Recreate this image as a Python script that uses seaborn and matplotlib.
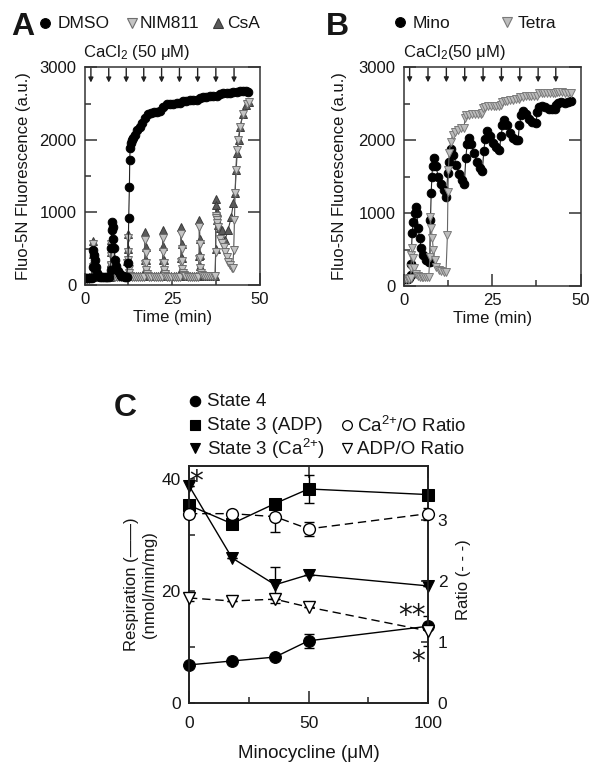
"""
Fluo-5N Ca2+ retention traces (A, B) and respiration / ratio vs minocycline (C)
"""
import matplotlib
matplotlib.use('Agg')
import matplotlib.pyplot as plt
import seaborn as sns

# ---------------- panel A : time (min) / fluorescence (a.u.) ----------------
dmso_t = [0, 0.5, 1, 1.5, 2, 2.3, 2.5, 2.7, 2.9, 3.2, 3.5, 4, 4.5, 5, 5.5, 6, 6.5, 7,
          7.4, 7.6, 7.7, 7.8, 8.0, 8.2, 8.4, 8.7, 9.0, 9.5, 10, 10.5, 11, 11.5, 12,
          12.4, 12.6, 12.8, 12.9, 13.0, 13.2, 13.5, 13.9, 14.4, 15.0, 15.8, 16.5, 17.3,
          18.2, 19.0, 19.8, 20.6, 21.5, 22.5, 23.5, 24.4, 25.3, 26.3, 27.2, 28.2, 29.1,
          30.0, 31.0, 32.0, 33.0, 33.8, 34.8, 35.8, 36.8, 37.8, 38.7, 39.6, 40.6, 41.5,
          42.5, 43.4, 44.4, 45.3, 46.2, 46.8]
dmso_v = [90, 90, 95, 95, 100, 250, 480, 410, 345, 250, 170, 130, 115, 110, 105, 105, 105, 105,
          200, 510, 755, 870, 800, 640, 510, 345, 260, 190, 150, 130, 120, 115, 115,
          300, 920, 1350, 1720, 1885, 1950, 2000, 2030, 2070, 2140, 2180, 2230, 2300,
          2360, 2370, 2380, 2390, 2400, 2455, 2490, 2495, 2500, 2505, 2510, 2530, 2540,
          2545, 2550, 2555, 2575, 2590, 2595, 2600, 2605, 2610, 2630, 2640, 2645, 2650,
          2655, 2665, 2670, 2670, 2670, 2665]

csa_t = [0, 0.6, 1.2, 1.8, 2.2,
         2.35, 2.4, 2.5, 2.6, 2.7, 2.85, 3.1, 3.6, 4.2, 4.8, 5.4, 6.0, 6.6, 7.2,
         7.4, 7.45, 7.55, 7.65, 7.75, 7.9, 8.2, 8.7, 9.3, 9.9, 10.5, 11.1, 11.7, 12.1,
         12.25, 12.3, 12.4, 12.5, 12.6, 12.75, 13.0, 13.5, 14.1, 14.7, 15.3, 15.9, 16.5, 17.1,
         17.25, 17.3, 17.4, 17.5, 17.6, 17.75, 18.0, 18.5, 19.1, 19.7, 20.3, 20.9, 21.5, 22.1,
         22.35, 22.4, 22.5, 22.6, 22.7, 22.85, 23.1, 23.6, 24.2, 24.8, 25.4, 26.0, 26.6, 27.2,
         27.55, 27.6, 27.7, 27.8, 27.9, 28.05, 28.3, 28.8, 29.4, 30.0, 30.6, 31.2, 31.8, 32.4,
         32.75, 32.8, 32.9, 33.0, 33.1, 33.25, 33.5, 34.0, 34.6, 35.2, 35.8, 36.4, 37.0, 37.3,
         37.45, 37.5, 37.6, 37.7, 37.9, 38.2, 38.6, 39.2, 40.1, 41.0, 41.9, 42.5, 43.0, 43.3,
         43.6, 44.0, 44.5, 45.2, 46.0, 46.9]
csa_v = [100, 100, 105, 105, 110,
         300, 600, 430, 290, 200, 150, 130, 120, 115, 115, 115, 115, 115, 115,
         300, 620, 450, 300, 210, 160, 135, 125, 120, 120, 120, 120, 120, 120,
         330, 700, 500, 330, 220, 165, 140, 125, 120, 120, 120, 120, 120, 120,
         340, 730, 520, 340, 230, 170, 140, 125, 120, 120, 120, 120, 120, 120,
         350, 760, 540, 350, 230, 170, 140, 125, 120, 120, 120, 120, 120, 120,
         370, 800, 570, 370, 240, 175, 145, 130, 125, 125, 125, 125, 125, 125,
         400, 900, 640, 420, 260, 180, 150, 135, 130, 130, 130, 130, 130, 130,
         500, 1190, 1100, 1000, 900, 820, 780, 760, 620, 760, 940, 1125, 1270, 1580,
         1820, 2000, 2180, 2360, 2480, 2520]

nim811_t = [0, 0.6, 1.2, 1.8, 2.2,
            2.35, 2.4, 2.5, 2.6, 2.7, 2.85, 3.1, 3.6, 4.2, 4.8, 5.4, 6.0, 6.6, 7.2,
            7.4, 7.45, 7.55, 7.65, 7.75, 7.9, 8.2, 8.7, 9.3, 9.9, 10.5, 11.1, 11.7, 12.1,
            12.25, 12.3, 12.4, 12.5, 12.6, 12.75, 13.0, 13.5, 14.1, 14.7, 15.3, 15.9, 16.5, 17.1,
            17.25, 17.3, 17.4, 17.5, 17.6, 17.75, 18.0, 18.5, 19.1, 19.7, 20.3, 20.9, 21.5, 22.1,
            22.35, 22.4, 22.5, 22.6, 22.7, 22.85, 23.1, 23.6, 24.2, 24.8, 25.4, 26.0, 26.6, 27.2,
            27.55, 27.6, 27.7, 27.8, 27.9, 28.05, 28.3, 28.8, 29.4, 30.0, 30.6, 31.2, 31.8, 32.4,
            32.75, 32.8, 32.9, 33.0, 33.1, 33.25, 33.5, 34.0, 34.6, 35.2, 35.8, 36.4, 37.0, 37.3,
            37.45, 37.5, 37.6, 37.7, 37.9, 38.2, 38.7, 39.2, 39.7, 40.2, 40.6, 41.1, 41.5,
            42.0, 42.3, 42.6, 42.8, 43.0, 43.2, 43.5, 43.9, 44.4, 45.3, 46.3, 46.9]
nim811_v = [80, 85, 85, 90, 95,
            250, 560, 400, 260, 180, 140, 120, 110, 105, 105, 105, 105, 105, 105,
            260, 560, 400, 270, 190, 145, 125, 115, 110, 110, 110, 110, 110, 110,
            300, 650, 460, 340, 220, 160, 130, 115, 110, 110, 110, 110, 110, 110,
            290, 620, 440, 300, 200, 150, 125, 115, 110, 110, 110, 110, 110, 110,
            300, 650, 460, 300, 210, 155, 130, 115, 110, 110, 110, 110, 110, 110,
            320, 700, 500, 330, 220, 160, 135, 120, 115, 115, 115, 115, 115, 115,
            360, 800, 560, 370, 240, 170, 140, 125, 120, 120, 120, 120, 120, 120,
            450, 950, 930, 900, 860, 800, 640, 580, 525, 450, 390, 320, 275,
            240, 230, 480, 895, 1265, 1580, 1855, 2000, 2180, 2360, 2500, 2520]

ca_pulses_a = [1.8, 6.9, 11.9, 16.9, 22.0, 27.1, 32.3, 37.5, 42.7]

# ---------------- panel B ----------------
mino_t = [0, 0.5, 1.0, 1.5, 1.9,
          2.0, 2.3, 2.6, 3.0, 3.3, 3.6, 4.0, 4.4, 4.9, 5.5, 6.2, 7.0, 7.3,
          7.5, 7.7, 7.9, 8.1, 8.4, 9.0, 9.7, 10.4, 11.2, 12.0,
          12.4, 12.8, 13.3, 14.0, 14.8, 15.6, 16.4, 17.1,
          17.5, 17.9, 18.3, 19.0, 19.8, 20.6, 21.4, 22.2,
          22.6, 23.0, 23.5, 24.3, 25.2, 26.1, 27.0,
          27.5, 27.9, 28.4, 29.2, 30.0, 30.8, 31.6, 32.3,
          32.7, 33.2, 33.8, 34.6, 35.5, 36.4, 37.3,
          37.8, 38.3, 39.0, 40.0, 41.0, 42.0, 42.7,
          43.1, 43.6, 44.5, 45.5, 46.5, 47.2]
mino_v = [100, 100, 100, 105, 150,
          300, 720, 880, 1000, 1085, 1000, 800, 660, 520, 430, 360, 330, 330,
          900, 1270, 1500, 1650, 1750, 1650, 1500, 1400, 1310, 1220,
          1550, 1700, 1880, 1800, 1660, 1540, 1450, 1400,
          1750, 1950, 2030, 1950, 1820, 1700, 1620, 1580,
          1850, 2020, 2120, 2060, 1960, 1900, 1860,
          2050, 2200, 2280, 2200, 2100, 2030, 2000, 2000,
          2200, 2340, 2400, 2350, 2290, 2250, 2230,
          2380, 2450, 2470, 2450, 2430, 2420, 2420,
          2480, 2510, 2520, 2510, 2520, 2530]

tetra_t = [0, 0.5, 1.0, 1.5, 1.9,
           2.0, 2.1, 2.2, 2.5, 2.9, 3.5, 4.0, 4.5, 5.0, 5.5, 6.0, 6.5, 7.0,
           7.35, 7.45, 7.7, 8.0, 8.3, 8.7, 9.2, 9.8, 10.5, 11.2, 11.9,
           12.3, 12.45, 12.6, 12.8, 13.2, 13.8, 14.5, 15.3, 16.2, 17.0,
           17.3, 17.7, 18.5, 19.3, 20.1, 20.9, 21.7, 22.2,
           22.5, 23.0, 23.8, 24.6, 25.4, 26.2, 27.0, 27.4,
           27.8, 28.5, 29.3, 30.1, 30.9, 31.7, 32.5,
           33.0, 33.7, 34.5, 35.3, 36.1, 36.9, 37.6,
           38.2, 39.0, 39.8, 40.6, 41.4, 42.2, 42.9,
           43.3, 44.0, 44.8, 45.6, 46.4, 47.2]
tetra_v = [95, 95, 100, 100, 110,
           250, 430, 515, 380, 245, 160, 135, 130, 125, 125, 125, 125, 130,
           400, 950, 795, 660, 495, 355, 265, 220, 200, 195, 190,
           700, 1290, 1590, 1820, 1975, 2070, 2110, 2140, 2160, 2170,
           2300, 2340, 2345, 2350, 2350, 2355, 2360, 2365,
           2435, 2450, 2460, 2465, 2465, 2470, 2470, 2475,
           2525, 2535, 2540, 2545, 2550, 2555, 2560,
           2590, 2595, 2600, 2600, 2600, 2605, 2605,
           2640, 2645, 2645, 2650, 2650, 2650, 2650,
           2660, 2660, 2655, 2650, 2645, 2640]

ca_pulses_b = [1.6, 6.8, 12.0, 17.2, 22.4, 27.6, 32.8, 38.0, 43.0]

# ---------------- panel C : minocycline (uM) ----------------
mino_conc = [0, 18, 36, 50, 100]
state4 = [6.8, 7.5, 8.2, 11.1, 13.7]
state4_err = [0, 0, 0, 1.2, 0]
state3_adp = [35.3, 32.0, 35.6, 38.2, 37.2]
state3_adp_err = [0, 0, 0, 2.5, 0]
state3_ca = [38.8, 25.9, 21.1, 22.9, 20.9]
state3_ca_err = [0, 0, 3.2, 0, 0]
ca_o_ratio = [3.1, 3.1, 3.05, 2.85, 3.1]
ca_o_err = [0, 0, 0.25, 0.12, 0.1]
adp_o_ratio = [1.72, 1.67, 1.70, 1.57, 1.18]
adp_o_err = [0.05, 0, 0, 0, 0.24]

sns.set_style("ticks")
plt.rcParams['font.family'] = ['Liberation Sans', 'DejaVu Sans']
plt.rcParams['mathtext.fontset'] = 'custom'
plt.rcParams['mathtext.rm'] = 'Liberation Sans'
plt.rcParams['mathtext.it'] = 'Liberation Sans'
INK = '#161616'
plt.rcParams['text.color'] = INK
plt.rcParams['axes.labelcolor'] = INK
plt.rcParams['xtick.color'] = INK
plt.rcParams['ytick.color'] = INK

W, H = 600, 773
fig = plt.figure(figsize=(6, 7.73), dpi=100)


def box(l, t, r, b):
    return [l / W, 1 - b / H, (r - l) / W, (b - t) / H]


axA = fig.add_axes(box(84.6, 67.3, 259.6, 285))
axB = fig.add_axes(box(404, 67, 580.5, 286))
axC = fig.add_axes(box(189, 466, 428, 703))


def trace(ax, t, v, marker, face, edge, line, ms):
    sns.lineplot(x=t, y=v, ax=ax, estimator=None, sort=False, legend=False,
                 color=line, linewidth=0.8, marker=marker, markersize=ms,
                 markerfacecolor=face, markeredgecolor=edge, markeredgewidth=0.7)


def style_trace(ax, pulses):
    ax.set_xlim(0, 50)
    ax.set_ylim(0, 3000)
    ax.set_xticks([0, 25, 50])
    ax.set_xticks([12.5, 37.5], minor=True)
    ax.set_yticks([0, 1000, 2000, 3000])
    ax.set_yticks([500, 1500, 2500], minor=True)
    ax.tick_params(which='both', direction='in', labelsize=12, width=1.1, color='#333')
    ax.tick_params(which='major', length=8.5)
    ax.tick_params(which='minor', length=4.5)
    ax.tick_params(axis='y', which='major', right=True, pad=6)
    ax.tick_params(axis='x', pad=5)
    for s in ax.spines.values():
        s.set_linewidth(1.1)
        s.set_color('#333')
    ax.set_xlabel('Time (min)', fontsize=12)
    ax.set_ylabel('Fluo-5N Fluorescence (a.u.)', fontsize=12)
    ax.xaxis.set_label_coords(0.5, -0.115)
    for p in pulses:
        ax.annotate('', xy=(p, 2790), xytext=(p, 2985),
                    arrowprops=dict(arrowstyle='-|>', color='#222', lw=1,
                                    mutation_scale=7, shrinkA=0, shrinkB=0))


# panel A traces
trace(axA, csa_t, csa_v, '^', '#5a5a5a', '#3a3a3a', '#404040', 5.6)
trace(axA, nim811_t, nim811_v, 'v', '#c4c4c4', '#6e6e6e', '#555555', 5.6)
trace(axA, dmso_t, dmso_v, 'o', 'k', 'k', '#222222', 6.2)
style_trace(axA, ca_pulses_a)
axA.yaxis.set_label_coords(-0.306, 0.5)

# panel B traces
trace(axB, mino_t, mino_v, 'o', 'k', 'k', '#222222', 6.2)
trace(axB, tetra_t, tetra_v, 'v', '#bdbdbd', '#7a7a7a', '#666666', 5.6)
style_trace(axB, ca_pulses_b)
axB.yaxis.set_label_coords(-0.323, 0.5)

# panel C
ax2 = axC.twinx()
axC.errorbar(mino_conc, state4, yerr=state4_err, fmt='none', ecolor='k', elinewidth=1, capsize=3.5, zorder=2)
axC.errorbar(mino_conc, state3_adp, yerr=state3_adp_err, fmt='none', ecolor='k', elinewidth=1, capsize=3.5, zorder=2)
axC.errorbar(mino_conc, state3_ca, yerr=state3_ca_err, fmt='none', ecolor='k', elinewidth=1, capsize=3.5, zorder=2)
sns.lineplot(x=mino_conc, y=state4, ax=axC, color='k', linewidth=1, marker='o', markersize=8.5,
             markeredgecolor='k', clip_on=False, zorder=3, legend=False)
sns.lineplot(x=mino_conc, y=state3_adp, ax=axC, color='k', linewidth=1, marker='s', markersize=8,
             markeredgecolor='k', clip_on=False, zorder=3, legend=False)
sns.lineplot(x=mino_conc, y=state3_ca, ax=axC, color='k', linewidth=1, marker='v', markersize=9,
             markeredgecolor='k', clip_on=False, zorder=3, legend=False)

ax2.errorbar(mino_conc, ca_o_ratio, yerr=ca_o_err, fmt='none', ecolor='k', elinewidth=1, capsize=3.5, zorder=2)
ax2.errorbar(mino_conc, adp_o_ratio, yerr=adp_o_err, fmt='none', ecolor='k', elinewidth=1, capsize=3.5, zorder=2)
sns.lineplot(x=mino_conc, y=ca_o_ratio, ax=ax2, color='k', linewidth=1, linestyle=(0, (6, 3.5)),
             marker='o', markersize=8.5, markerfacecolor='white', markeredgecolor='k',
             markeredgewidth=1, clip_on=False, zorder=3, legend=False)
sns.lineplot(x=mino_conc, y=adp_o_ratio, ax=ax2, color='k', linewidth=1, linestyle=(0, (6, 3.5)),
             marker='v', markersize=8, markerfacecolor='white', markeredgecolor='k',
             markeredgewidth=1, clip_on=False, zorder=3, legend=False)

axC.set_xlim(0, 100)
axC.set_ylim(0, 42.3)
ax2.set_ylim(0, 3.88)
axC.set_xticks([0, 50, 100])
axC.set_xticks([25, 75], minor=True)
axC.set_yticks([0, 20, 40])
axC.set_yticks([10, 30], minor=True)
ax2.set_yticks([0, 1, 2, 3])
for a in (axC, ax2):
    a.tick_params(which='both', direction='in', labelsize=12.5, width=1.1, color='#222')
    for s in a.spines.values():
        s.set_linewidth(1.2)
        s.set_color('#222')
axC.tick_params(axis='x', which='major', length=8.5, pad=9, top=True)
axC.tick_params(axis='x', which='minor', length=4.5)
axC.tick_params(axis='y', which='both', length=4.5, pad=6)
ax2.tick_params(axis='y', length=5, pad=7)
axC.set_xlabel('Minocycline (μM)', fontsize=13.5)
axC.xaxis.set_label_coords(0.5, -0.178)
axC.set_ylabel('Respiration (——)\n(nmol/min/mg)', fontsize=12, linespacing=1.25)
axC.yaxis.set_label_coords(-0.134, 0.5)
ax2.set_ylabel('Ratio (- - -)', fontsize=12)
ax2.yaxis.set_label_coords(1.117, 0.52)
for x, y, s in [(2.9, 38.0, '*'), (93.3, 14.1, '**'), (95.8, 5.9, '*')]:
    axC.text(x, y, s, fontsize=20, family='DejaVu Sans', ha='center', va='baseline',
             clip_on=False, zorder=5)

# overlay for panel letters, legends and annotations (pixel coordinates)
ov = fig.add_axes([0, 0, 1, 1])
ov.set_xlim(0, W)
ov.set_ylim(H, 0)
ov.axis('off')
ov.patch.set_alpha(0)


def glyph(x, y, marker, ms, face, edge='k', mew=0.8):
    ov.plot([x], [y], marker=marker, ms=ms, mfc=face, mec=edge, mew=mew, ls='none')


ov.text(11, 27, 'A', fontsize=23, fontweight='bold', va='center')
ov.text(326, 27, 'B', fontsize=23, fontweight='bold', va='center')
ov.text(114, 408, 'C', fontsize=23, fontweight='bold', va='center')

glyph(45, 23, 'o', 7, 'k')
ov.text(58, 24, 'DMSO', fontsize=12.5, va='center')
glyph(132, 23, 'v', 6.5, '#c4c4c4', '#6e6e6e')
ov.text(140, 24, 'NIM811', fontsize=12.5, va='center')
glyph(218, 23, '^', 6.5, '#5a5a5a', '#3a3a3a')
ov.text(227, 24, 'CsA', fontsize=12.5, va='center')
ov.text(83, 53, r'CaCl$_2$ (50 μM)', fontsize=12, va='center')

glyph(400, 22, 'o', 7, 'k')
ov.text(413, 23, 'Mino', fontsize=12.5, va='center')
glyph(507, 22, 'v', 6.5, '#bdbdbd', '#7a7a7a')
ov.text(518, 23, 'Tetra', fontsize=12.5, va='center')
ov.text(403, 53, r'CaCl$_2$(50 μM)', fontsize=12, va='center')

glyph(195, 401, 'o', 7.5, 'k')
ov.text(207, 402, 'State 4', fontsize=13.5, va='center')
glyph(195, 425, 's', 7, 'k')
ov.text(207, 426, 'State 3 (ADP)', fontsize=13.5, va='center')
glyph(195, 448, 'v', 7.5, 'k')
ov.text(207, 449, r'State 3 (Ca$^{2{+}}$)', fontsize=13.5, va='center')
glyph(347, 425, 'o', 7, 'white', 'k', 0.9)
ov.text(357, 426, r'Ca$^{2{+}}$/O Ratio', fontsize=13.5, va='center')
glyph(347, 448, 'v', 7.5, 'white', 'k', 0.9)
ov.text(357, 449, 'ADP/O Ratio', fontsize=13.5, va='center')

fig.savefig('out.png', dpi=100)
